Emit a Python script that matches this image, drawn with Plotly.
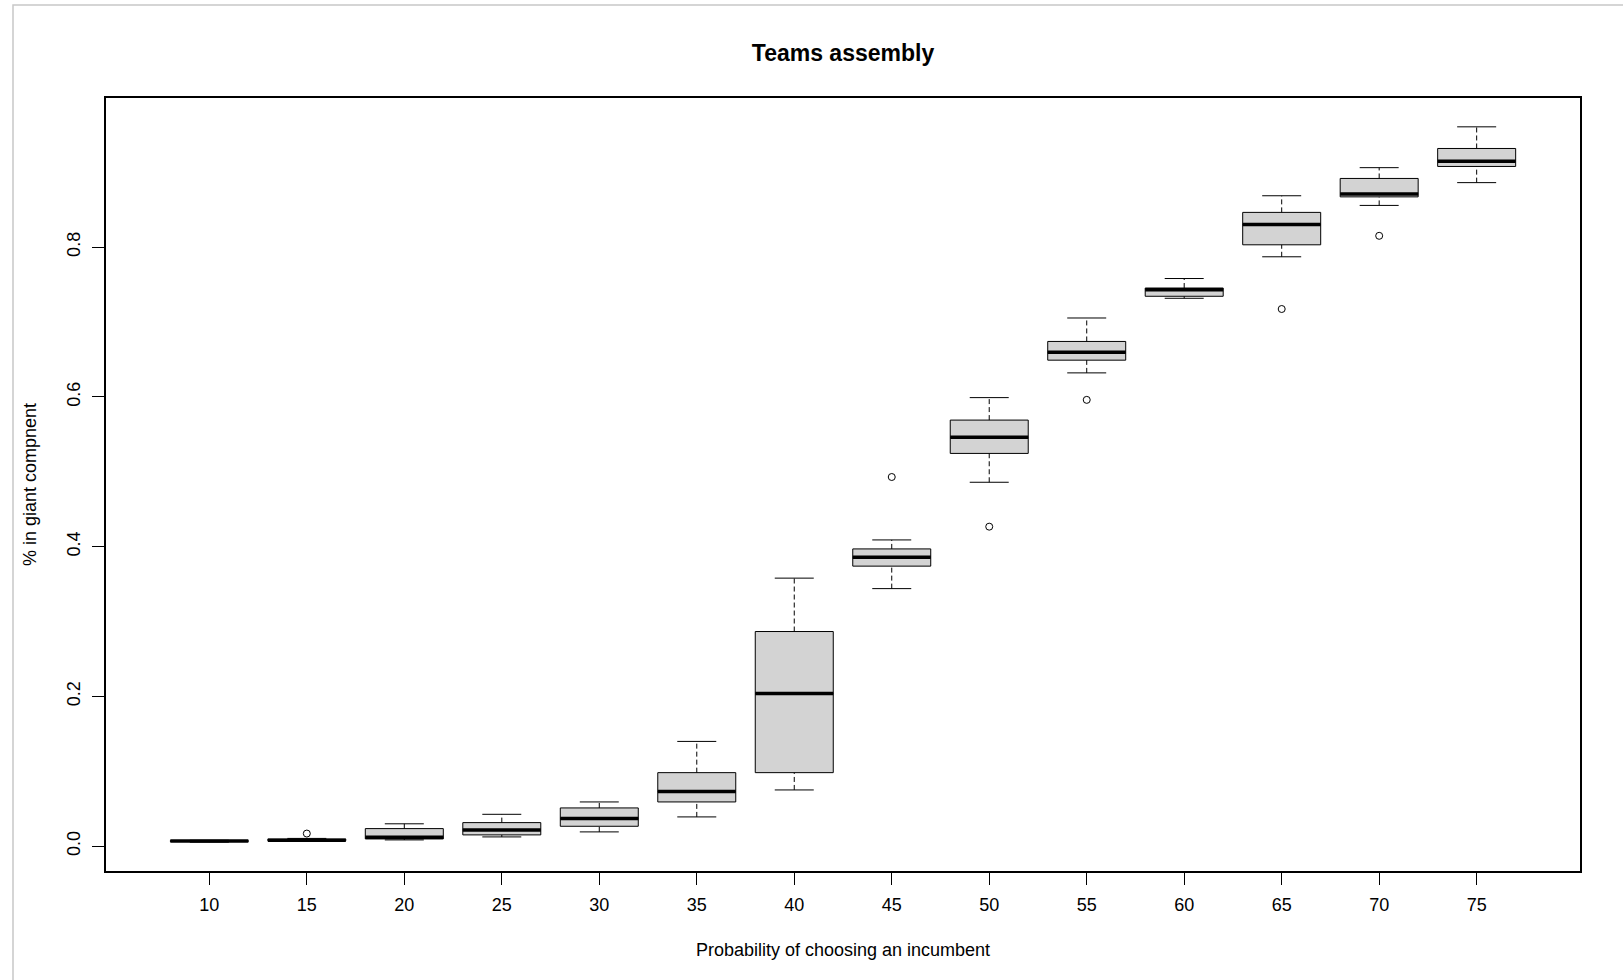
import plotly.graph_objects as go

# ---- data ----
categories = [10, 15, 20, 25, 30, 35, 40, 45, 50, 55, 60, 65, 70, 75]
lower_whisker = [0.0055, 0.0065, 0.0085, 0.0125, 0.0192, 0.0392, 0.0752, 0.344, 0.486, 0.632, 0.7316, 0.787, 0.8556, 0.886]
q1 = [0.0065, 0.0075, 0.0098, 0.0152, 0.0267, 0.0592, 0.0983, 0.374, 0.5245, 0.649, 0.7343, 0.803, 0.867, 0.9076]
median = [0.0070, 0.0080, 0.0120, 0.0218, 0.0370, 0.0733, 0.204, 0.386, 0.546, 0.6596, 0.7431, 0.830, 0.871, 0.9147]
q3 = [0.0075, 0.0095, 0.0236, 0.0316, 0.0512, 0.0983, 0.2867, 0.397, 0.569, 0.674, 0.7453, 0.8463, 0.8916, 0.9316]
upper_whisker = [0.0080, 0.0105, 0.030, 0.0427, 0.0592, 0.140, 0.358, 0.409, 0.599, 0.7053, 0.758, 0.8685, 0.906, 0.9605]
outlier_category = [15, 45, 50, 55, 65, 70]
outlier_value = [0.017, 0.493, 0.4267, 0.596, 0.7173, 0.815]
y_ticks = [0.0, 0.2, 0.4, 0.6, 0.8]

# ---- style ----
BOX_HALF = 0.4
CAP_HALF = 0.2
FONT = "Liberation Sans, Arial, sans-serif"

positions = list(range(1, len(categories) + 1))
pos_of = {c: p for c, p in zip(categories, positions)}

fig = go.Figure()

# boxes (quartiles)
fig.add_trace(go.Box(
    x=positions, q1=q1, median=median, q3=q3,
    lowerfence=q1, upperfence=q3,
    width=2 * BOX_HALF, whiskerwidth=0,
    fillcolor="#D3D3D3", line=dict(color="black", width=1),
    boxpoints=False, showlegend=False, hoverinfo="skip",
))

# dashed whiskers
wx, wy = [], []
for p, lo, a, b, hi in zip(positions, lower_whisker, q1, q3, upper_whisker):
    wx += [p, p, None, p, p, None]
    wy += [b, hi, None, lo, a, None]
fig.add_trace(go.Scatter(x=wx, y=wy, mode="lines", showlegend=False, hoverinfo="skip",
                         line=dict(color="black", width=1, dash="5px,3px")))

# whisker caps
cx, cy = [], []
for p, lo, hi in zip(positions, lower_whisker, upper_whisker):
    cx += [p - CAP_HALF, p + CAP_HALF, None, p - CAP_HALF, p + CAP_HALF, None]
    cy += [hi, hi, None, lo, lo, None]
fig.add_trace(go.Scatter(x=cx, y=cy, mode="lines", showlegend=False, hoverinfo="skip",
                         line=dict(color="black", width=1)))

# thick medians
mx, my = [], []
for p, m in zip(positions, median):
    mx += [p - BOX_HALF, p + BOX_HALF, None]
    my += [m, m, None]
fig.add_trace(go.Scatter(x=mx, y=my, mode="lines", showlegend=False, hoverinfo="skip",
                         line=dict(color="black", width=3.5)))

# outliers
fig.add_trace(go.Scatter(
    x=[pos_of[c] for c in outlier_category], y=outlier_value, mode="markers",
    showlegend=False, hoverinfo="skip",
    marker=dict(symbol="circle-open", size=7, color="black", line=dict(width=1)),
))

fig.update_layout(
    width=1623, height=980,
    paper_bgcolor="white", plot_bgcolor="white",
    margin=dict(l=106, r=43, t=98, b=109, pad=0),
    font=dict(family=FONT, size=18, color="black"),
    title=dict(text="<b>Teams assembly</b>", font=dict(family=FONT, size=23, color="black"),
               x=0.5, xref="paper", xanchor="center",
               y=1 - 53 / 980, yref="container", yanchor="middle"),
    xaxis=dict(
        range=[-0.06, 15.06], tickmode="array", tickvals=positions,
        ticktext=[str(c) for c in categories],
        ticks="outside", ticklen=12, tickcolor="black", tickwidth=1,
        showgrid=False, zeroline=False,
        showline=True, mirror=True, linecolor="black", linewidth=1.5,
        ticklabelstandoff=5,
        title=dict(text="Probability of choosing an incumbent", standoff=29,
                   font=dict(family=FONT, size=18)),
    ),
    yaxis=dict(
        range=[-0.033, 0.999], tickmode="array", tickvals=y_ticks,
        ticktext=[f"{v:.1f}" for v in y_ticks], tickangle=-90,
        ticks="outside", ticklen=12, tickcolor="black", tickwidth=1,
        showgrid=False, zeroline=False,
        showline=True, mirror=True, linecolor="black", linewidth=1.5,
        ticklabelstandoff=5,
        title=dict(text="% in giant compnent", standoff=23,
                   font=dict(family=FONT, size=18)),
    ),
    shapes=[dict(type="rect", xref="paper", yref="paper",
                 x0=(13 - 106) / 1474, x1=1.2, y0=-0.3, y1=(871 - 5) / 773,
                 line=dict(color="#c8c8c8", width=1.5), fillcolor="rgba(0,0,0,0)",
                 layer="below")],
)

fig.write_html("out.html", config={"displayModeBar": False},
               post_script="document.body.style.margin='0';")
